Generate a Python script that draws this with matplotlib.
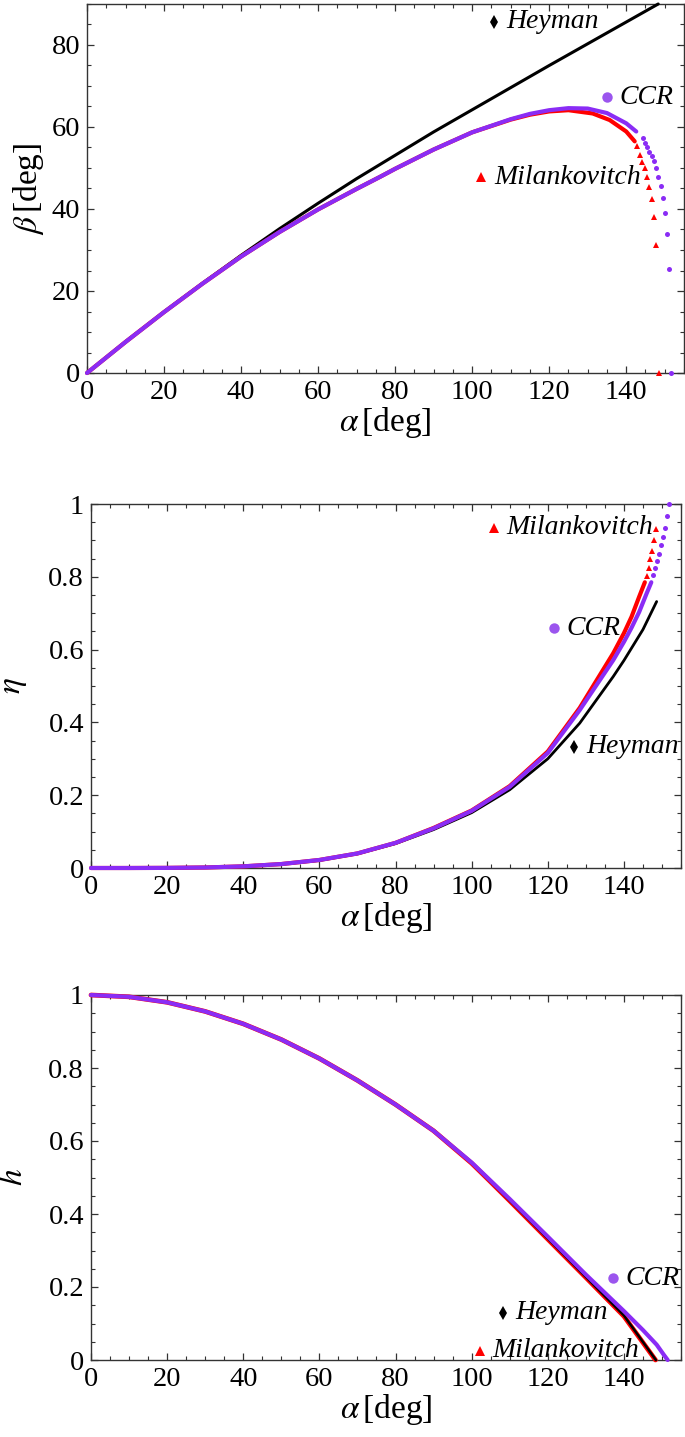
import matplotlib
matplotlib.use("Agg")
import matplotlib.pyplot as plt
import numpy as np

plt.rcParams['font.family'] = ['Liberation Serif', 'DejaVu Serif']
plt.rcParams['mathtext.fontset'] = 'stix'

# ---------------- data ----------------
# Panel 1: beta [deg] vs alpha [deg]
heyman_beta_alpha = [0, 10, 20, 30, 40, 50, 60, 70, 80, 90, 100, 110, 120, 130, 140, 148.3]
heyman_beta = [0, 7.6, 14.9, 21.9, 28.7, 35.2, 41.4, 47.4, 53.1, 58.8, 64.2, 69.6, 75.0, 80.3, 85.6, 90.0]

ccr_beta_alpha = [0, 10, 20, 30, 40, 50, 60, 70, 76, 80, 90, 100, 110, 115, 120, 125, 130, 135, 140, 142.6]
ccr_beta = [0, 7.57, 14.85, 21.8, 28.4, 34.4, 39.9, 44.9, 47.8, 49.8, 54.5, 58.7, 61.9, 63.2, 64.1, 64.6, 64.5, 63.4, 60.9, 58.9]
ccr_beta_tail_alpha = [144.3, 144.9, 145.4, 146.0, 146.6, 147.2, 147.7, 148.3, 148.9, 149.5, 150.1, 150.6, 151.2, 151.7]
ccr_beta_tail = [57.2, 56.2, 55.2, 54.0, 52.9, 51.7, 50.0, 47.9, 45.6, 42.8, 39.1, 34.0, 25.4, 0.0]

mil_beta_alpha = [0, 10, 20, 30, 40, 50, 60, 70, 76, 80, 90, 100, 110, 115, 120, 125, 131.3, 135.7, 140, 142.2]
mil_beta = [0, 7.57, 14.85, 21.8, 28.4, 34.4, 39.9, 44.9, 47.8, 49.8, 54.5, 58.7, 61.8, 63.0, 63.8, 64.1, 63.3, 61.7, 58.9, 56.5]
mil_beta_tail_alpha = [142.8, 143.5, 144.1, 144.8, 145.5, 146.0, 146.6, 147.2, 147.8, 148.4]
mil_beta_tail = [55.4, 53.1, 51.5, 49.9, 47.9, 45.4, 42.4, 38.1, 31.2, 0.0]

# Panel 2: eta vs alpha [deg]
heyman_eta_alpha = [0, 10, 20, 30, 40, 50, 60, 70, 80, 90, 100, 110, 120, 128.4, 137.2, 140, 145, 148.6]
heyman_eta = [0, 0.0, 0.0003, 0.0014, 0.0044, 0.0105, 0.021, 0.039, 0.067, 0.1055, 0.152, 0.215, 0.300, 0.398, 0.526, 0.570, 0.655, 0.732]

ccr_eta_alpha = [0, 10, 20, 30, 40, 50, 60, 70, 80, 90, 100, 110, 120, 128.4, 137.2, 140, 142, 144, 146, 147.2]
ccr_eta = [0, 0.0, 0.0003, 0.0014, 0.0045, 0.0108, 0.022, 0.040, 0.069, 0.109, 0.157, 0.223, 0.316, 0.434, 0.571, 0.621, 0.660, 0.703, 0.755, 0.785]
ccr_eta_tail_alpha = [147.7, 148.2, 148.8, 149.3, 149.8, 150.3, 150.8, 151.4, 151.9]
ccr_eta_tail = [0.805, 0.823, 0.843, 0.864, 0.886, 0.908, 0.933, 0.967, 1.0]

mil_eta_alpha = [0, 10, 20, 30, 40, 50, 60, 70, 80, 90, 100, 110, 120, 128.4, 137.2, 140, 142, 144, 145.5]
mil_eta = [0, 0.0, 0.0003, 0.0014, 0.0045, 0.0108, 0.022, 0.040, 0.069, 0.110, 0.158, 0.225, 0.320, 0.440, 0.590, 0.645, 0.690, 0.745, 0.785]
mil_eta_tail_alpha = [146.0, 146.5, 146.8, 147.4, 147.9, 148.4]
mil_eta_tail = [0.802, 0.823, 0.848, 0.872, 0.901, 0.930]

# Panel 3: h vs alpha [deg]
heyman_h_alpha = [0, 10, 20, 30, 40, 50, 60, 70, 80, 90, 100, 104.4, 110, 120, 130, 140, 148.4]
heyman_h = [1.0, 0.995, 0.980, 0.955, 0.921, 0.878, 0.826, 0.766, 0.700, 0.628, 0.540, 0.495, 0.437, 0.333, 0.228, 0.122, 0.0]

ccr_h_alpha = [0, 10, 20, 30, 40, 50, 60, 70, 80, 90, 100, 104.4, 110, 120, 130, 140, 145, 148.6, 150.5, 151.5]
ccr_h = [1.0, 0.995, 0.980, 0.955, 0.921, 0.878, 0.826, 0.766, 0.700, 0.628, 0.541, 0.497, 0.441, 0.338, 0.234, 0.134, 0.082, 0.042, 0.014, 0.0]

mil_h_alpha = [0, 10, 20, 30, 40, 50, 60, 70, 80, 90, 100, 104.4, 110, 120, 130, 140, 148.3]
mil_h = [1.0, 0.995, 0.980, 0.955, 0.921, 0.878, 0.826, 0.766, 0.700, 0.628, 0.539, 0.494, 0.436, 0.331, 0.226, 0.120, 0.0]

# label positions (marker alpha, marker value)
labels_beta = {"Heyman": (105.6, 85.7), "CCR": (135.0, 67.2), "Milankovitch": (102.4, 47.7)}
labels_eta = {"Heyman": (126.9, 0.333), "CCR": (121.6, 0.658), "Milankovitch": (105.9, 0.935)}
labels_h = {"Heyman": (108.3, 0.130), "CCR": (137.2, 0.224), "Milankovitch": (102.2, 0.026)}

# ---------------- styling ----------------
C_H = 'black'
C_M = '#ff0000'
C_C = '#8a2cf5'
C_CL = '#9b55ee'
mk = {"Heyman": ('d', C_H), "Milankovitch": ('^', C_M), "CCR": ('o', C_CL)}

W, H = 685, 1437
fig = plt.figure(figsize=(W / 100, H / 100), dpi=100)

def ax_rect(l, t, r, b):
    return [l / W, 1 - b / H, (r - l) / W, (b - t) / H]

ax1 = fig.add_axes(ax_rect(87, 4, 684, 373))
ax2 = fig.add_axes(ax_rect(91, 504, 681, 868))
ax3 = fig.add_axes(ax_rect(91, 995, 681, 1360))

def style(ax, ylim, ymaj, ymin, yfmt=None):
    ax.set_xlim(0, 155)
    ax.set_ylim(*ylim)
    ax.set_xticks(np.arange(0, 141, 20))
    ax.set_xticks(np.arange(0, 156, 5), minor=True)
    ax.set_yticks(ymaj)
    ax.set_yticks(ymin, minor=True)
    if yfmt is not None:
        ax.set_yticklabels(yfmt)
    ax.tick_params(which='both', direction='in', top=True, right=True, labelsize=20.5, color='#333333')
    ax.tick_params(which='major', length=5, width=0.9, pad=5)
    ax.tick_params(which='minor', length=3, width=0.8)
    for s in ax.spines.values():
        s.set_color('#333333')
        s.set_linewidth(1.0)
    ax.set_xlabel(r'$\alpha\,$[deg]', fontsize=24, labelpad=0)

def draw_series(ax, xa, ya, color, lw, marker=None, tx=None, ty=None, tms=3.4):
    ax.plot(xa, ya, '-', color=color, lw=lw, solid_capstyle='round', clip_on=False, zorder=3)
    if tx is not None:
        ax.plot(tx, ty, linestyle='none', marker=marker, color=color, ms=tms, mew=0,
                clip_on=False, zorder=3)

def add_labels(ax, labels):
    for name, (x, y) in labels.items():
        m, c = mk[name]
        ax.plot([x], [y], marker=m, color=c, ms=7.5, mew=0, linestyle='none', zorder=4)
        ax.annotate(name, (x, y), xytext=(9, 0), textcoords='offset points', va='center', ha='left',
                    fontsize=20, style='italic', zorder=4)

# Panel 1
style(ax1, (0, 90), np.arange(0, 81, 20), np.arange(0, 91, 5))
draw_series(ax1, heyman_beta_alpha, heyman_beta, C_H, 2.2)
draw_series(ax1, mil_beta_alpha, mil_beta, C_M, 3.0, '^', mil_beta_tail_alpha, mil_beta_tail, 4.2)
draw_series(ax1, ccr_beta_alpha, ccr_beta, C_C, 3.0, 'o', ccr_beta_tail_alpha, ccr_beta_tail, 3.6)
ax1.set_ylabel(r'$\beta\,$[deg]', fontsize=24, labelpad=4)
add_labels(ax1, labels_beta)

# Panel 2
style(ax2, (0, 1), [0, 0.2, 0.4, 0.6, 0.8, 1.0], np.arange(0, 1.01, 0.05),
      ['0', '0.2', '0.4', '0.6', '0.8', '1'])
draw_series(ax2, heyman_eta_alpha, heyman_eta, C_H, 2.0)
draw_series(ax2, mil_eta_alpha, mil_eta, C_M, 3.0, '^', mil_eta_tail_alpha, mil_eta_tail, 4.2)
draw_series(ax2, ccr_eta_alpha, ccr_eta, C_C, 3.0, 'o', ccr_eta_tail_alpha, ccr_eta_tail, 3.6)
ax2.set_ylabel(r'$\eta$', fontsize=24, labelpad=14)
add_labels(ax2, labels_eta)

# Panel 3
style(ax3, (0, 1), [0, 0.2, 0.4, 0.6, 0.8, 1.0], np.arange(0, 1.01, 0.05),
      ['0', '0.2', '0.4', '0.6', '0.8', '1'])
draw_series(ax3, mil_h_alpha, mil_h, C_M, 3.4)
draw_series(ax3, heyman_h_alpha, heyman_h, C_H, 1.8)
draw_series(ax3, ccr_h_alpha, ccr_h, C_C, 3.0)
ax3.set_ylabel(r'$h$', fontsize=24, labelpad=14)
add_labels(ax3, labels_h)

fig.savefig('out.png', dpi=100)
